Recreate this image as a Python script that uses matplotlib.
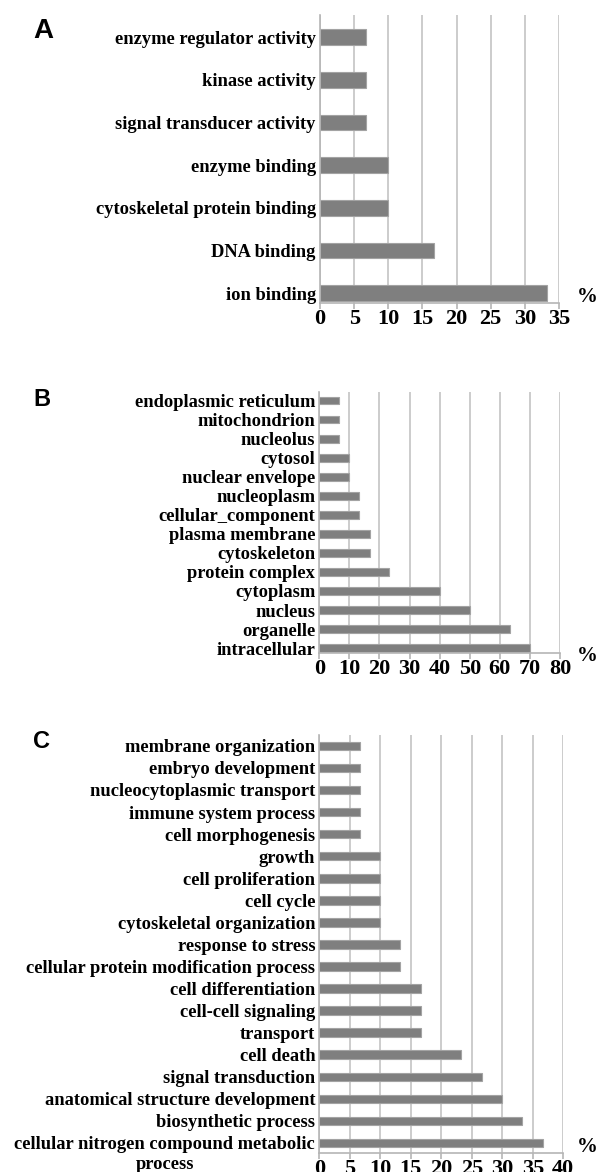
import numpy as np
import matplotlib
matplotlib.use('Agg')
import matplotlib.pyplot as plt
from matplotlib.transforms import ScaledTranslation

# A - molecular function
mf_terms = ['enzyme regulator activity', 'kinase activity', 'signal transducer activity',
            'enzyme binding', 'cytoskeletal protein binding', 'DNA binding', 'ion binding']
mf_pct = [6.7, 6.7, 6.7, 10.0, 10.0, 16.7, 33.3]
mf_ticks = [0, 5, 10, 15, 20, 25, 30, 35]

# B - cellular component
cc_terms = ['endoplasmic reticulum', 'mitochondrion', 'nucleolus', 'cytosol', 'nuclear envelope',
            'nucleoplasm', 'cellular_component', 'plasma membrane', 'cytoskeleton',
            'protein complex', 'cytoplasm', 'nucleus', 'organelle', 'intracellular']
cc_pct = [6.7, 6.7, 6.7, 10.0, 10.0, 13.3, 13.3, 16.7, 16.7, 23.3, 40.0, 50.0, 63.3, 70.0]
cc_ticks = [0, 10, 20, 30, 40, 50, 60, 70, 80]

# C - biological process
bp_terms = ['membrane organization', 'embryo development', 'nucleocytoplasmic transport',
            'immune system process', 'cell morphogenesis', 'growth', 'cell proliferation',
            'cell cycle', 'cytoskeletal organization', 'response to stress',
            'cellular protein modification process', 'cell differentiation',
            'cell-cell signaling', 'transport', 'cell death', 'signal transduction',
            'anatomical structure development', 'biosynthetic process',
            'cellular nitrogen compound metabolic\nprocess']
bp_pct = [6.7, 6.7, 6.7, 6.7, 6.7, 10.0, 10.0, 10.0, 10.0, 13.3, 13.3, 16.7, 16.7, 16.7,
          23.3, 26.7, 30.0, 33.3, 36.7]
bp_ticks = [0, 5, 10, 15, 20, 25, 30, 35, 40]

W, H = 599, 1172
fig = plt.figure(figsize=(W / 100, H / 100), dpi=100)

serif = ['Liberation Serif', 'DejaVu Serif']
sans = ['Liberation Sans', 'DejaVu Sans']
LAB = 13.3


def px_axes(x0, x1, y0, y1):
    return fig.add_axes([x0 / W, 1 - y1 / H, (x1 - x0) / W, (y1 - y0) / H])


def panel(ax, terms, vals, ticks, ylim, bar_h, split_last=False):
    n = len(terms)
    pos = np.arange(n)[::-1]
    ax.set_axisbelow(True)
    ax.barh(pos, vals, height=bar_h, color='#7f7f7f', edgecolor='#a3a3a3', linewidth=0.8)
    ax.set_xlim(ticks[0], ticks[-1])
    ax.set_ylim(*ylim)
    ax.set_xticks(ticks)
    ax.set_xticklabels([str(t) for t in ticks], fontsize=16, fontweight='bold', family=serif)
    labels = list(terms)
    if split_last:
        labels[-1] = ''
    ax.set_yticks(pos)
    ax.set_yticklabels(labels, fontsize=LAB, fontweight='bold', family=serif)
    ax.grid(axis='x', color='#c4c4c4', linewidth=1.2)
    for s in ['top', 'right']:
        ax.spines[s].set_visible(False)
    for s in ['left', 'bottom']:
        ax.spines[s].set_color('#b5b5b5')
        ax.spines[s].set_linewidth(1.2)
    ax.tick_params(axis='y', length=0, pad=3)
    ax.tick_params(axis='x', length=4, color='#b5b5b5', width=1.2, pad=0.5)
    if split_last:
        off = ScaledTranslation(-3 / 72, 5 / 72, fig.dpi_scale_trans)
        ax.text(0, pos[-1], terms[-1], transform=ax.get_yaxis_transform() + off,
                ha='right', va='top', multialignment='center', linespacing=1.2,
                fontsize=LAB, fontweight='bold', family=serif)


axA = px_axes(320, 559, 15, 303)
panel(axA, mf_terms, mf_pct, mf_ticks, (-0.23, 6.52), 0.37)
axB = px_axes(319.3, 560, 392, 653)
panel(axB, cc_terms, cc_pct, cc_ticks, (-0.26, 13.46), 0.39)
axC = px_axes(319.3, 563.3, 735, 1153)
panel(axC, bp_terms, bp_pct, bp_ticks, (-0.45, 18.49), 0.39, split_last=True)

# panel letters and unit signs
for letter, (x, y), sz in [('A', (43, 31), 20), ('B', (42, 399), 17), ('C', (42, 741), 17)]:
    fig.text(x / W, 1 - y / H, letter, ha='center', va='center', fontsize=sz,
             fontweight='bold', family=sans)
for y in [297, 656, 1147]:
    fig.text(587 / W, 1 - y / H, '%', ha='center', va='center', fontsize=15,
             fontweight='bold', family=serif)

fig.savefig('out.png', dpi=100)
